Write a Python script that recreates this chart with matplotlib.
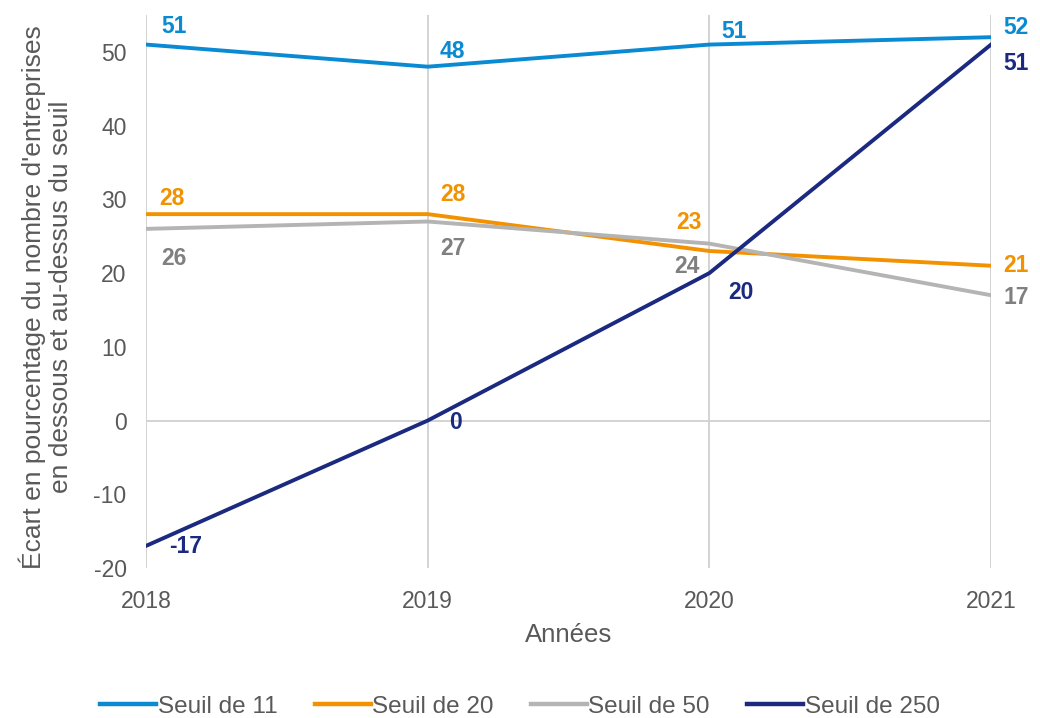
import matplotlib.pyplot as plt

plt.rcParams['font.family'] = ['Liberation Sans', 'DejaVu Sans']
plt.rcParams['axes.unicode_minus'] = False

years = [2018, 2019, 2020, 2021]
seuil_11 = [51, 48, 51, 52]
seuil_20 = [28, 28, 23, 21]
seuil_50 = [26, 27, 24, 17]
seuil_250 = [-17, 0, 20, 51]

series = [
    ("Seuil de 11", seuil_11, "#0a8ad2", "#0a8ad2"),
    ("Seuil de 20", seuil_20, "#f39200", "#f39200"),
    ("Seuil de 50", seuil_50, "#b4b4b4", "#808080"),
    ("Seuil de 250", seuil_250, "#1b2a80", "#1b2a80"),
]

# label offsets in pixels (dx, dy) per point
offsets = {
    "Seuil de 11": [(28, 18), (25, 15), (25, 13), (25, 10)],
    "Seuil de 20": [(26, 16), (25, 20), (-20, 28), (25, 0)],
    "Seuil de 50": [(28, -30), (25, -27), (-22, -23), (25, -2)],
    "Seuil de 250": [(40, -1), (28, -2), (32, -19), (25, -19)],
}

fig = plt.figure(figsize=(10.4, 7.18), dpi=100)
ax = fig.add_axes([0.1404, 0.2089, 0.8125, 0.7701])

for name, vals, col, lcol in series:
    ax.plot(years, vals, color=col, lw=2.8, label=name, zorder=3)
    for (x, y), (dx, dy) in zip(zip(years, vals), offsets[name]):
        ax.annotate(str(y), (x, y), xytext=(dx * 0.72, dy * 0.72),
                    textcoords='offset points', ha='center', va='center',
                    fontsize=16.5, fontweight='bold', color=lcol)

ax.set_xlim(2018, 2021)
ax.set_ylim(-20, 55)
ax.set_xticks(years)
ax.set_yticks(range(-20, 51, 10))
ax.axhline(0, color='#d0d0d0', lw=1.3, zorder=1)
for x in years:
    ax.axvline(x, color='#d0d0d0', lw=1.3, zorder=1)
for s in ax.spines.values():
    s.set_visible(False)
ax.tick_params(length=0, labelsize=16.5, colors='#595959')
ax.tick_params(axis='x', pad=16)
ax.tick_params(axis='y', pad=14)
ax.set_xlabel("Années", fontsize=18.5, color='#595959')
ax.set_ylabel("Écart en pourcentage du nombre d'entreprises\nen dessous et au-dessus du seuil",
              fontsize=19, color='#595959', linespacing=1.2)
ax.xaxis.set_label_coords(0.5, -0.1)
ax.yaxis.set_label_coords(-0.086, 0.49)

leg = fig.legend(loc='center', bbox_to_anchor=(0.5, 0.016), ncol=4, frameon=False,
                 fontsize=17.5, handlelength=2.3, columnspacing=1.55, handletextpad=0.05)
for t in leg.get_texts():
    t.set_color('#595959')
for h in leg.legend_handles:
    h.set_linewidth(3.2)

fig.savefig('out.png', dpi=100)
